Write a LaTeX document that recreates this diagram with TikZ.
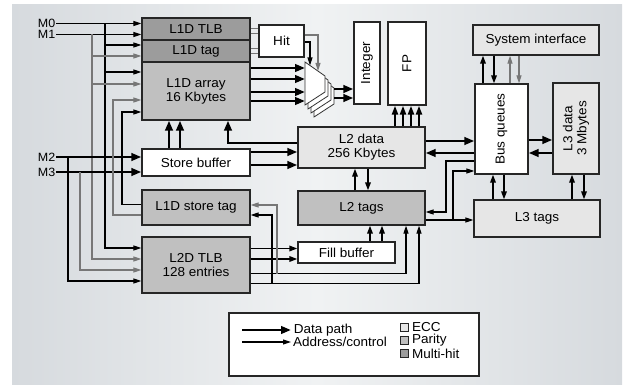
\documentclass[tikz,border=0pt]{standalone}
\usepackage{fontspec}
\setmainfont[FakeStretch=1.04]{Liberation Sans}
\usetikzlibrary{positioning, arrows.meta, calc}

\definecolor{ecc}{HTML}{E6E6E6}
\definecolor{parity}{HTML}{C0C0C0}
\definecolor{multihit}{HTML}{9C9C9C}
\definecolor{bgside}{HTML}{D6DADE}
\definecolor{bgmid}{HTML}{F0F2F3}
\definecolor{sig}{HTML}{777777}

\begin{document}
\begin{tikzpicture}[
    x=1pt, y=-1pt,
    box/.style={draw=black!85, line width=1.3pt, inner sep=0pt, align=center, font=\fontsize{13}{14}\selectfont},
    lbl/.style={inner sep=1.5pt, font=\fontsize{13}{14}\selectfont},
    port/.style={inner sep=0.5pt, font=\fontsize{12}{12}\selectfont},
    data/.style={line width=2.6pt, -{Triangle[length=10pt,width=7.5pt]}},
    ctl/.style={line width=1.6pt, -{Triangle[length=8pt,width=5.5pt]}},
    addr/.style={line width=1.1pt, -{Triangle[length=8pt,width=5pt]}},
    addrg/.style={addr, sig},
    wireg/.style={line width=0.9pt, sig},
    muxlayer/.style={draw=black!80, line width=0.8pt, fill=white}
]

    % background
    \useasboundingbox (0,0) rectangle (627,385);
    \shade[left color=bgside, right color=bgside, middle color=bgmid] (12,5) rectangle (622,385);

    % bus columns
    \coordinate (va) at (68,0);
    \coordinate (vb) at (80,0);
    \coordinate (vc) at (92,0);
    \coordinate (vd) at (105,0);
    \coordinate (ve) at (113,0);
    \coordinate (vf) at (122,0);
    \coordinate (vg) at (272,0);
    \coordinate (vh) at (277,0);
    \coordinate (vi) at (446,0);
    \coordinate (vj) at (453,0);

    % L1D side
    \node[box, fill=multihit, minimum width=108pt, minimum height=22pt] (tlb) at (196,29) {L1D TLB};
    \node[box, fill=multihit, minimum width=108pt, minimum height=22pt] (l1tag) at (196,51) {L1D tag};
    \node[box, fill=parity, minimum width=108pt, minimum height=58pt] (l1arr) at (196,91) {L1D array\\16 Kbytes};
    \node[box, fill=white, minimum width=108pt, minimum height=27pt] (stbuf) at (196,162.5) {Store buffer};
    \node[box, fill=parity, minimum width=108pt, minimum height=35pt] (sttag) at (196,207.5) {L1D store tag};
    \node[box, fill=parity, minimum width=108pt, minimum height=56pt] (l2tlb) at (196,265) {L2D TLB\\128 entries};
    \node[box, fill=white, minimum width=45pt, minimum height=32pt] (hit) at (281.5,41) {Hit};

    % execution units
    \node[box, fill=white, minimum width=26pt, minimum height=82pt] (intg) at (367,63) {};
    \node[rotate=90, lbl] at (intg) {Integer};
    \node[box, fill=white, minimum width=38pt, minimum height=83pt] (fp) at (407,63.5) {};
    \node[rotate=90, lbl] at (fp) {FP};

    % L2
    \node[box, fill=ecc, minimum width=127pt, minimum height=41pt] (l2data) at (361.5,147.5) {L2 data\\256 Kbytes};
    \node[box, fill=parity, minimum width=127pt, minimum height=34pt] (l2tags) at (361.5,208) {L2 tags};
    \node[box, fill=white, minimum width=97pt, minimum height=21pt] (fill) at (346.5,252.5) {Fill buffer};

    % L3 and system
    \node[box, fill=ecc, minimum width=126pt, minimum height=30pt] (sysif) at (536,40) {System interface};
    \node[box, fill=white, minimum width=53pt, minimum height=90pt] (busq) at (501.5,129) {};
    \node[rotate=90, lbl] at (busq) {Bus queues};
    \node[box, fill=ecc, minimum width=46pt, minimum height=91pt] (l3data) at (576,128.5) {};
    \node[rotate=90, lbl, align=center] at (l3data) {L3 data\\3 Mbytes};
    \node[box, fill=ecc, minimum width=126pt, minimum height=37pt] (l3tags) at (537,218.5) {L3 tags};

    % way-select mux
    \coordinate (mux) at (305,62);
    \coordinate (mw) at (305,0);
    \coordinate (me) at (334,0);
    \coordinate (mta) at (310,65.5);
    \coordinate (mtb) at (318,71);
    \foreach \k in {3,2,1,0}
        \draw[muxlayer] ($(mux)+(3*\k,4*\k)$) -- ++(20,14) -- ++(0,16) -- ++(-20,13) -- cycle;

    % ports
    \node[port, anchor=east] (m0) at (56,23.5) {M0};
    \node[port, anchor=east] (m1) at (56,34.5) {M1};
    \node[port, anchor=east] (m2) at (56,157) {M2};
    \node[port, anchor=east] (m3) at (56,172) {M3};

    % M0
    \draw[addr] (m0.east) -- (m0.east -| tlb.west);
    \draw[addr] (m0.east -| vd) |- ([yshift=17pt]l2tlb.west);
    \draw[addr] ([yshift=6pt]l1tag.west -| vd) -- ([yshift=6pt]l1tag.west);
    \draw[addr] ([yshift=19pt]l1arr.west -| vd) -- ([yshift=19pt]l1arr.west);

    % M1
    \draw[addr] (m1.east) -- (m1.east -| tlb.west);
    \draw[addrg] (m1.east -| vc) |- ([yshift=6pt]l2tlb.west);
    \draw[addrg] ([yshift=-5pt]l1tag.west -| vc) -- ([yshift=-5pt]l1tag.west);
    \draw[addrg] ([yshift=7pt]l1arr.west -| vc) -- ([yshift=7pt]l1arr.west);

    % M2, M3
    \draw[data] (m2.east) -- (m2.east -| stbuf.west);
    \draw[data] (m3.east) -- (m3.east -| stbuf.west);
    \draw[addr] (m2.east -| va) |- ([yshift=-16pt]l2tlb.west);
    \draw[addrg] (m3.east -| vb) |- ([yshift=-5pt]l2tlb.west);

    % store tag back to array
    \draw[addrg] ([yshift=-7.5pt]sttag.west) -| ([yshift=-9pt]l1arr.west -| ve) -- ([yshift=-9pt]l1arr.west);
    \draw[addr] ([yshift=3pt]sttag.west) -| ([yshift=-21pt]l1arr.west -| vf) -- ([yshift=-21pt]l1arr.west);

    % tags to hit
    \foreach \s in {1,-4}
        \draw[wireg] ([yshift=\s pt]tlb.east) -- ([yshift=\s pt]tlb.east -| hit.west);
    \foreach \s in {3,-2}
        \draw[wireg] ([yshift=\s pt]l1tag.east) -- ([yshift=\s pt]l1tag.east -| hit.west);
    \draw[addr] ([yshift=-1pt]hit.east) -| (mta);
    \draw[addrg] ([yshift=6pt]hit.east) -| (mtb);

    % array through mux
    \foreach \s in {23,12,-1,-10}
        \draw[data] ([yshift=\s pt]l1arr.east) -- ([yshift=\s pt]l1arr.east -| mw);
    \foreach \s in {-26,-35}
        \draw[data] ([yshift=\s pt]intg.west -| me) -- ([yshift=\s pt]intg.west);

    % store buffer and L2 data
    \foreach \s in {-27,-16}
        \draw[data] ([xshift=\s pt]stbuf.north) -- ([xshift=\s pt]stbuf.north |- l1arr.south);
    \draw[data] ([yshift=4.5pt]l2data.west) -| ([xshift=32pt]l1arr.south);
    \foreach \s in {10.5,-2.5}
        \draw[data] ([yshift=\s pt]stbuf.east) -- ([yshift=\s pt]stbuf.east -| l2data.west);
    \foreach \s in {-12,-4,4,12}
        \draw[line width=2.6pt, -{Triangle[length=9pt,width=6pt]}] ([xshift=\s pt]fp.south |- l2data.north) -- ([xshift=\s pt]fp.south);
    \draw[ctl] ([xshift=-6.5pt]l2tags.north) -- ([xshift=-6.5pt]l2data.south);
    \draw[ctl] ([xshift=6.5pt]l2data.south) -- ([xshift=6.5pt]l2tags.north);

    % L2D TLB and fill buffer
    \foreach \s in {23.5,35.5}
        \draw[ctl] ([xshift=\s pt]fill.north) -- ([xshift=\s pt]fill.north |- l2tags.south);
    \foreach \s in {16.5,6}
        \draw[ctl] ([yshift=\s pt]l2tlb.east) -- ([yshift=\s pt]l2tlb.east -| fill.west);
    \draw[addr] ([yshift=-8.5pt]l2tlb.east) -| ([xshift=44.5pt]l2tags.south);
    \draw[addr] ([yshift=-18.5pt]l2tlb.east) -| ([xshift=57.5pt]l2tags.south);
    \draw[addrg] ([yshift=-8.5pt]l2tlb.east -| vh) |- ([yshift=2.5pt]sttag.east);
    \draw[addr] ([yshift=-18.5pt]l2tlb.east -| vg) |- ([yshift=-7.5pt]sttag.east);

    % L2 to bus queues and L3
    \draw[data] ([yshift=6.5pt]l2data.east) -- ([yshift=6.5pt]l2data.east -| busq.west);
    \draw[data] ([yshift=-5.5pt]l2data.east -| busq.west) -- ([yshift=-5.5pt]l2data.east);
    \draw[addr] ([yshift=-32pt]busq.west) -| ([yshift=-4pt]l2tags.east -| vi) -- ([yshift=-4pt]l2tags.east);
    \draw[addr] ([yshift=-12pt]l2tags.east) -- ([yshift=-12pt]l2tags.east -| l3tags.west);
    \draw[addr] ([yshift=-12pt]l2tags.east -| vj) |- ([yshift=-42pt]busq.west);
    \draw[data] ([yshift=-11pt]busq.east) -- ([yshift=-11pt]busq.east -| l3data.west);
    \draw[data] ([yshift=-24pt]busq.east -| l3data.west) -- ([yshift=-24pt]busq.east);

    % system interface
    \draw[ctl] ([xshift=-18.5pt]busq.north) -- ([xshift=-18.5pt]busq.north |- sysif.south);
    \draw[ctl] ([xshift=-7.5pt]busq.north |- sysif.south) -- ([xshift=-7.5pt]busq.north);
    \draw[addrg] ([xshift=8.5pt]busq.north) -- ([xshift=8.5pt]busq.north |- sysif.south);
    \draw[addrg] ([xshift=17.5pt]busq.north |- sysif.south) -- ([xshift=17.5pt]busq.north);

    % L3 tags
    \draw[ctl] ([xshift=-8.5pt]busq.south |- l3tags.north) -- ([xshift=-8.5pt]busq.south);
    \draw[ctl] ([xshift=2.5pt]busq.south) -- ([xshift=2.5pt]busq.south |- l3tags.north);
    \draw[ctl] ([xshift=-4pt]l3data.south |- l3tags.north) -- ([xshift=-4pt]l3data.south);
    \draw[ctl] ([xshift=8pt]l3data.south) -- ([xshift=8pt]l3data.south |- l3tags.north);

    % legend
    \node[draw=black!85, line width=1.3pt, fill=white, minimum width=250pt, minimum height=63pt] (legend) at (354,344.5) {};
    \coordinate (kd) at (242,330);
    \coordinate (ka) at (242,342);
    \draw[data] (kd) -- ++(49,0) node[lbl, anchor=west] (kdt) {Data path};
    \draw[addr] (ka) -- ++(49,0) node[lbl, anchor=west] (kat) {Address/control};
    \node[draw=black!85, line width=0.9pt, fill=ecc, minimum size=8pt, inner sep=0pt] (kecc) at (404,327) {};
    \node[draw=black!85, line width=0.9pt, fill=parity, minimum size=8pt, inner sep=0pt] (kpar) at (404,340.5) {};
    \node[draw=black!85, line width=0.9pt, fill=multihit, minimum size=8pt, inner sep=0pt] (kmh) at (404,353.5) {};
    \node[lbl, right=2pt of kecc] {ECC};
    \node[lbl, right=2pt of kpar] {Parity};
    \node[lbl, right=2pt of kmh] {Multi-hit};
\end{tikzpicture}
\end{document}
